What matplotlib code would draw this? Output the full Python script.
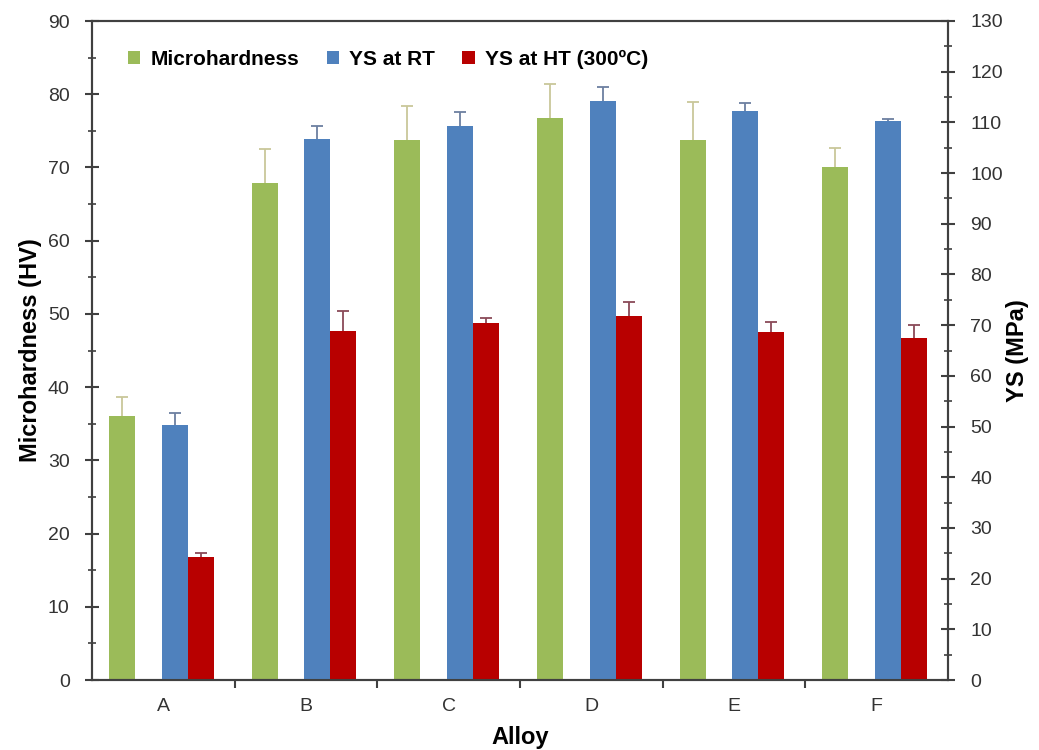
import matplotlib.pyplot as plt
import numpy as np

plt.rcParams['font.family'] = ['Liberation Sans', 'DejaVu Sans']

# Dane
alloys = ['A', 'B', 'C', 'D', 'E', 'F']
hardness = [36.1, 67.9, 73.8, 76.8, 73.8, 70.0]
hardness_err = [2.6, 4.6, 4.6, 4.6, 5.1, 2.6]
ys_rt = [50.3, 106.7, 109.3, 114.3, 112.2, 110.3]
ys_rt_err = [2.4, 2.6, 2.7, 2.7, 1.7, 0.4]
ys_ht = [24.3, 68.8, 70.5, 71.9, 68.6, 67.5]
ys_ht_err = [0.7, 4.0, 0.9, 2.7, 2.1, 2.5]

green = '#9bbb59'
blue = '#4f81bd'
red = '#b80000'
axis_col = '#404040'


def upper_err(a, xs, vals, errs, col):
    # tylko górna połowa słupka błędu, z kreską na końcu
    tops = np.array(vals) + np.array(errs)
    a.vlines(xs, vals, tops, color=col, lw=1.3, zorder=3)
    a.plot(xs, tops, ls='none', marker='_', ms=8, mew=1.3, color=col, zorder=3)


fig = plt.figure(figsize=(10.39, 7.5), dpi=100)
ax = fig.add_axes([0.0885, 0.0933, 0.824, 0.8787])
ax2 = ax.twinx()

x = np.arange(len(alloys))
w = 0.182

ax.bar(x - 0.29, hardness, w, color=green, label='Microhardness', zorder=2)
upper_err(ax, x - 0.29, hardness, hardness_err, '#c9c79a')

ax2.bar(x + 0.08, ys_rt, w, color=blue, label='YS at RT', zorder=2)
upper_err(ax2, x + 0.08, ys_rt, ys_rt_err, '#6c7fa0')
ax2.bar(x + 0.08 + w, ys_ht, w, color=red, label='YS at HT (300ºC)', zorder=2)
upper_err(ax2, x + 0.08 + w, ys_ht, ys_ht_err, '#8a4a58')

# Osie
ax.set_xlim(-0.5, len(alloys) - 0.5)
ax.set_ylim(0, 90)
ax2.set_ylim(0, 130)
ax.set_yticks(np.arange(0, 91, 10))
ax.set_yticks(np.arange(5, 90, 10), minor=True)
ax2.set_yticks(np.arange(0, 131, 10))
ax2.set_yticks(np.arange(5, 130, 10), minor=True)

ax.set_xticks(x)
ax.set_xticklabels(alloys)
ax.set_xticks(np.arange(0.5, len(alloys) - 0.5, 1), minor=True)
ax.tick_params(axis='x', which='major', length=0, pad=13, labelsize=14,
               labelcolor='#333333')
ax.tick_params(axis='x', which='minor', length=6, width=1.5, color=axis_col,
               direction='out')

for a in (ax, ax2):
    a.tick_params(axis='y', which='major', direction='inout', length=10, width=1.5,
                  color=axis_col, labelsize=14, labelcolor='#333333', pad=11)
    a.tick_params(axis='y', which='minor', direction='inout', length=6, width=1.2,
                  color=axis_col)
    for s in a.spines.values():
        s.set_color(axis_col)
        s.set_linewidth(1.5)

label_font = {'size': 17, 'weight': 'bold'}
ax.set_xlabel('Alloy', fontdict=label_font, labelpad=8)
ax.set_ylabel('Microhardness (HV)', fontdict=label_font, labelpad=4)
ax2.set_ylabel('YS (MPa)', fontdict=label_font, labelpad=2)

# Legenda
h1, l1 = ax.get_legend_handles_labels()
h2, l2 = ax2.get_legend_handles_labels()
ax2.legend(h1 + h2, l1 + l2, loc='upper left', bbox_to_anchor=(0.02, 0.985),
           ncol=3, frameon=False, prop={'size': 15, 'weight': 'bold'},
           handlelength=0.6, handleheight=0.6, handletextpad=0.5,
           columnspacing=1.3)

fig.savefig('out.png', dpi=100)
